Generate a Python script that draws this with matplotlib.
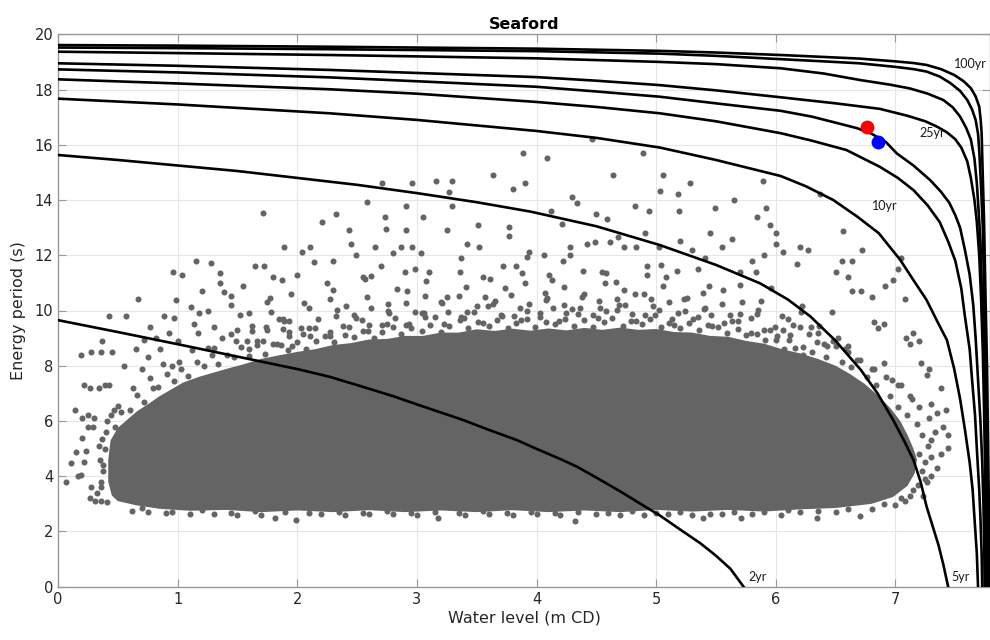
import matplotlib
matplotlib.use("Agg")
import matplotlib.pyplot as plt

# return period curves (water level m CD, energy period s)
x2yr = [0, 0.5, 1, 1.5, 2, 2.27, 2.5, 2.8, 3, 3.39, 3.6, 3.835, 4, 4.2, 4.34, 4.5, 4.7, 4.85,
        5.03, 5.2, 5.37, 5.5, 5.62, 5.73]
y2yr = [9.65, 9.22, 8.78, 8.33, 7.88, 7.6, 7.3, 6.9, 6.6, 6.03, 5.68, 5.31, 4.99, 4.62, 4.34, 3.95,
        3.45, 3.05, 2.58, 2.07, 1.57, 1.12, 0.65, 0]
x5yr = [0, 0.5, 1, 1.5, 2, 2.5, 3, 3.5, 3.95, 4.5, 5.03, 5.5, 5.87, 6.1, 6.29, 6.5, 6.71, 6.85,
        6.98, 7.07, 7.15, 7.21, 7.26, 7.31, 7.36, 7.4, 7.44]
y5yr = [15.63, 15.45, 15.25, 15.05, 14.8, 14.55, 14.25, 13.92, 13.58, 13.05, 12.37, 11.65, 10.98,
        10.4, 9.78, 8.9, 7.85, 7.0, 6.04, 5.3, 4.59, 3.8, 2.9, 2.2, 1.5, 0.8, 0]
x10yr = [0, 1, 2.27, 3, 4, 4.5, 5.03, 5.5, 6.04, 6.25, 6.48, 6.68, 6.86, 7.04, 7.15, 7.26, 7.35,
         7.43, 7.49, 7.54, 7.58, 7.62, 7.645, 7.66, 7.68, 7.69]
y10yr = [17.67, 17.46, 17.14, 16.9, 16.5, 16.25, 15.9, 15.45, 14.87, 14.5, 14.0, 13.4, 12.8, 11.83,
         11.1, 10.38, 9.6, 8.93, 7.9, 6.8, 5.7, 4.5, 3.5, 2.5, 1.2, 0]
xD = [0, 1, 2.27, 3, 4, 4.5, 5.03, 5.5, 6.04, 6.3, 6.59, 6.87, 7.02, 7.15, 7.27, 7.37, 7.44, 7.5,
      7.55, 7.58, 7.62, 7.64, 7.665, 7.68, 7.7, 7.71, 7.72, 7.725]
yD = [18.37, 18.22, 18.01, 17.85, 17.55, 17.37, 17.14, 16.85, 16.42, 16.15, 15.81, 15.2, 14.8, 14.36,
      13.8, 13.2, 12.5, 11.8, 10.8, 9.8, 8.6, 7.5, 6.2, 5.0, 3.5, 2.5, 1.2, 0]
xE = [0, 1, 2.27, 3, 4, 4.5, 5.03, 5.5, 6.04, 6.3, 6.5, 6.68, 6.8, 6.92, 7.01, 7.15, 7.29, 7.38,
      7.45, 7.5, 7.54, 7.58, 7.62, 7.65, 7.67, 7.69, 7.71, 7.725, 7.735, 7.742, 7.745]
yE = [18.73, 18.62, 18.44, 18.3, 18.1, 17.93, 17.74, 17.5, 17.23, 17.02, 16.8, 16.6, 16.4, 16.1,
      15.69, 15.25, 14.72, 14.3, 13.9, 13.45, 13.0, 12.2, 11.3, 10.2, 9.0, 7.5, 6.0, 4.5, 3.0, 1.5, 0]
x25yr = [0, 1, 2.27, 3, 4, 4.5, 5.03, 5.5, 6.04, 6.5, 6.87, 7.1, 7.25, 7.35, 7.43, 7.5, 7.55, 7.6,
         7.63, 7.66, 7.68, 7.7, 7.715, 7.73, 7.74, 7.748, 7.752, 7.755]
y25yr = [18.95, 18.86, 18.71, 18.6, 18.45, 18.32, 18.16, 17.97, 17.72, 17.5, 17.3, 17.05, 16.85,
         16.65, 16.45, 16.2, 15.9, 15.4, 14.8, 14.0, 13.2, 12.0, 10.5, 8.5, 6.5, 4.5, 2.5, 0]
xG = [0, 1, 2.27, 3, 4, 5.03, 5.5, 6.04, 6.4, 6.71, 6.95, 7.12, 7.27, 7.4, 7.48, 7.54, 7.59, 7.63,
      7.66, 7.68, 7.695, 7.71, 7.72, 7.735, 7.745, 7.75, 7.756, 7.76, 7.763, 7.765]
yG = [19.37, 19.32, 19.25, 19.2, 19.13, 19.0, 18.92, 18.77, 18.58, 18.34, 18.18, 18.04, 17.85, 17.62,
      17.35, 17.02, 16.62, 16.19, 15.5, 14.6, 13.6, 12.5, 11.0, 9.5, 7.5, 6.0, 4.5, 3.0, 1.5, 0]
xH = [0, 1, 2.27, 3, 4, 5.03, 5.5, 6.04, 6.4, 6.7, 7.0, 7.15, 7.26, 7.37, 7.46, 7.54, 7.6, 7.64,
      7.67, 7.69, 7.7, 7.715, 7.73, 7.742, 7.755, 7.763, 7.77, 7.773, 7.775]
yH = [19.52, 19.5, 19.46, 19.43, 19.39, 19.3, 19.22, 19.10, 19.02, 18.95, 18.82, 18.74, 18.65, 18.47,
      18.23, 17.95, 17.62, 17.28, 16.9, 16.4, 15.8, 14.5, 13.0, 10.5, 8.0, 5.5, 3.0, 1.5, 0]
x100yr = [0, 1, 2.27, 3, 4, 5.03, 5.5, 6.04, 6.4, 6.7, 7.0, 7.15, 7.26, 7.38, 7.49, 7.57, 7.63,
          7.67, 7.7, 7.712, 7.72, 7.73, 7.74, 7.752, 7.765, 7.773, 7.78, 7.783, 7.785]
y100yr = [19.61, 19.59, 19.55, 19.52, 19.48, 19.4, 19.34, 19.25, 19.18, 19.12, 19.02, 18.96, 18.89,
          18.74, 18.53, 18.3, 18.05, 17.75, 17.38, 16.9, 16.42, 14.8, 13.28, 10.6, 8.0, 5.5, 3.0,
          1.5, 0]

# dense part of the observations, drawn as one solid outline
coreX = [0.45, 0.42, 0.42, 0.44, 0.5, 0.58, 0.66, 0.75, 0.85, 0.95, 1.05, 1.18, 1.3, 1.42, 1.55,
         1.7, 1.85, 2.0, 2.15, 2.3, 2.45, 2.6, 2.75, 2.9, 3.05, 3.2, 3.35, 3.5, 3.65, 3.8, 3.95, 4.1,
         4.25, 4.4, 4.55, 4.7, 4.85, 5.0, 5.15, 5.3, 5.45, 5.6, 5.75, 5.9, 6.05, 6.2, 6.35, 6.5, 6.62,
         6.74, 6.86, 6.96, 7.04, 7.1, 7.15, 7.18, 7.16, 7.1, 6.98, 6.8, 6.5, 6.2, 5.9, 5.6, 5.3, 5.0,
         4.7, 4.4, 4.1, 3.8, 3.5, 3.2, 2.9, 2.6, 2.3, 2.0, 1.7, 1.4, 1.1, 0.85, 0.65, 0.5]
coreY = [3.3, 3.8, 4.6, 5.3, 5.75, 6.05, 6.35, 6.6, 6.9, 7.15, 7.4, 7.6, 7.75, 7.9, 8.05, 8.25,
         8.38, 8.5, 8.6, 8.75, 8.82, 8.95, 8.97, 9.08, 9.08, 9.2, 9.2, 9.32, 9.26, 9.34, 9.27, 9.35,
         9.28, 9.37, 9.3, 9.38, 9.3, 9.33, 9.22, 9.2, 9.08, 9.05, 8.9, 8.8, 8.6, 8.45, 8.25, 8.0, 7.7,
         7.35, 6.9, 6.45, 6.0, 5.5, 5.0, 4.6, 4.1, 3.65, 3.25, 3.0, 2.85, 2.8, 2.72, 2.78, 2.72, 2.78,
         2.7, 2.76, 2.7, 2.77, 2.7, 2.76, 2.7, 2.77, 2.7, 2.76, 2.7, 2.78, 2.75, 2.82, 2.95, 3.1]

# speckled band just above the dense part, row by row
band1X = [1.92, 2.0, 2.07, 2.16, 2.23, 2.31, 2.4, 2.47, 2.55, 2.64, 2.71, 2.8, 2.87, 2.95, 3.04,
          3.11, 3.2, 3.27, 3.36, 3.43, 3.51, 3.6, 3.67, 3.76, 3.83, 3.92, 3.99, 4.08, 4.15, 4.24,
          4.31, 4.4, 4.47, 4.56, 4.63, 4.72, 4.79, 4.88, 4.95, 5.04, 5.11, 5.2, 5.27, 5.36, 5.43,
          5.52, 5.59, 5.68, 5.75, 5.84, 5.91, 6.0, 6.07, 6.16, 6.23]
band1Y = [8.57, 8.85, 8.61, 8.88, 9.08, 8.85, 9.12, 9.03, 9.27, 9.01, 9.23, 9.42, 9.15, 9.38, 9.27,
          9.49, 9.23, 9.45, 9.64, 9.37, 9.6, 9.45, 9.65, 9.35, 9.55, 9.7, 9.4, 9.6, 9.5, 9.7, 9.45,
          9.65, 9.4, 9.6, 9.72, 9.45, 9.62, 9.5, 9.68, 9.4, 9.56, 9.37, 9.54, 9.3, 9.47, 9.39, 9.19,
          9.33, 9.1, 9.14, 8.92, 8.95, 8.6, 8.63, 8.4]
band1bX = [1.96, 2.11, 2.27, 2.43, 2.59, 2.75, 2.91, 3.07, 3.23, 3.39, 3.55, 3.71, 3.87, 4.03, 4.19,
           4.35, 4.51, 4.67, 4.83, 4.99, 5.15, 5.31, 5.47, 5.63, 5.79, 5.95, 6.11]
band1bY = [8.72, 9.08, 9.07, 9.41, 9.24, 9.52, 9.48, 9.75, 9.5, 9.73, 9.55, 9.8, 9.65, 9.91, 9.61,
           9.88, 9.72, 10.01, 9.61, 9.83, 9.47, 9.69, 9.43, 9.62, 9.17, 9.28, 8.94]
band2X = [1.6, 1.71, 1.83, 1.93, 2.05, 2.15, 2.27, 2.38, 2.49, 2.6, 2.71, 2.82, 2.93, 3.04, 3.15,
          3.26, 3.37, 3.48, 3.59, 3.7, 3.81, 3.92, 4.03, 4.14, 4.25, 4.36, 4.47, 4.58, 4.69, 4.8,
          4.91, 5.02, 5.13, 5.24, 5.35, 5.46, 5.57, 5.68, 5.79, 5.9, 6.01, 6.12, 6.23, 6.34]
band2Y = [8.6, 8.9, 8.78, 9.23, 9.15, 9.38, 9.22, 9.45, 9.74, 9.49, 9.48, 9.73, 9.52, 9.92, 9.76,
          9.95, 9.75, 9.94, 10.15, 9.85, 9.8, 10.0, 9.75, 10.1, 9.9, 10.1, 9.85, 10.0, 10.2, 9.88,
          9.83, 10.02, 9.7, 10.0, 9.76, 9.85, 9.55, 9.63, 9.73, 9.3, 9.08, 9.1, 8.67, 8.85]
band2bX = [1.66, 1.88, 2.1, 2.32, 2.54, 2.76, 2.98, 3.2, 3.42, 3.64, 3.86, 4.08, 4.3, 4.52, 4.74,
           4.96, 5.18, 5.4, 5.62, 5.84, 6.06, 6.28]
band2bY = [8.9, 9.33, 9.37, 9.8, 9.65, 9.97, 9.93, 10.3, 9.95, 10.22, 10.1, 10.39, 10.05, 10.33,
           10.21, 10.42, 9.91, 10.07, 9.83, 9.88, 9.3, 9.15]
band3X = [1.3, 1.45, 1.58, 1.74, 1.88, 2.03, 2.17, 2.33, 2.47, 2.62, 2.77, 2.91, 3.06, 3.21, 3.35,
          3.5, 3.65, 3.79, 3.94, 4.09, 4.23, 4.38, 4.53, 4.67, 4.82, 4.97, 5.11, 5.26, 5.41, 5.55,
          5.7, 5.85, 5.99, 6.14, 6.29, 6.43, 6.58]
band3Y = [8.65, 9.15, 8.9, 9.4, 9.68, 9.38, 9.7, 10.02, 9.83, 10.1, 9.9, 10.26, 9.92, 10.28, 10.54,
          10.15, 10.35, 10.55, 10.25, 10.45, 10.2, 10.5, 10.1, 10.4, 10.6, 10.15, 10.3, 10.44, 10.08,
          10.22, 9.87, 10.03, 9.4, 9.46, 9.42, 8.7, 8.6]
band4X = [1.62, 1.78, 1.93, 2.1, 2.27, 2.41, 2.58, 2.76, 2.92, 3.07, 3.25, 3.41, 3.57, 3.74, 3.9,
          4.07, 4.23, 4.4, 4.57, 4.73, 4.9, 5.06, 5.23, 5.39, 5.56, 5.72, 5.88, 6.05, 6.21, 6.36, 6.52]
band4Y = [9.45, 9.95, 9.63, 10.1, 10.42, 10.17, 10.48, 10.25, 10.72, 10.52, 10.49, 10.86, 10.5, 10.8,
          11.0, 10.65, 10.85, 10.58, 11.0, 10.73, 10.6, 10.88, 10.4, 10.63, 10.76, 10.32, 10.35, 9.8,
          9.95, 9.45, 9.0]
band5X = [1.52, 1.77, 2.06, 2.3, 2.57, 2.83, 3.08, 3.36, 3.61, 3.88, 4.13, 4.39, 4.66, 4.92, 5.17,
          5.44, 5.7, 5.96, 6.22, 6.47]
band5Y = [9.85, 10.44, 10.26, 10.74, 11.13, 10.79, 11.08, 11.39, 11.15, 11.35, 11.1, 11.43, 11.04,
          11.3, 11.43, 10.87, 10.92, 10.8, 10.15, 9.95]
band6X = [1.45, 1.87, 2.14, 2.62, 2.98, 3.37, 3.83, 4.22, 4.58, 5.04, 5.41, 5.83, 6.18, 6.6]
band6Y = [10.2, 11.1, 11.75, 11.25, 11.5, 11.9, 11.6, 11.8, 11.35, 11.65, 11.9, 11.4, 11.7, 11.2]
leftX = [0.48, 0.53, 0.6, 0.66, 0.72, 0.79, 0.84, 0.91, 0.97, 1.03, 1.09, 1.16, 1.22, 1.29, 1.34,
         1.41, 1.47, 1.53, 1.6, 1.66, 1.73, 1.8, 1.86, 1.93, 0.5, 0.63, 0.77, 0.88, 1.01, 1.12, 1.25,
         1.37, 1.49, 1.62, 1.75, 1.89, 0.33, 0.36, 0.38, 0.35, 0.39, 0.37, 0.34, 0.4, 0.38, 0.36,
         0.41, 0.44, 0.47]
leftY = [5.8, 6.32, 6.4, 6.95, 6.7, 7.2, 7.22, 7.7, 7.45, 7.9, 7.62, 8.12, 8.0, 8.39, 8.05, 8.39,
         8.31, 8.68, 8.36, 8.75, 8.43, 8.79, 8.74, 9.09, 6.55, 7.2, 7.55, 8.07, 8.15, 8.57, 8.63, 9.0,
         8.89, 9.24, 9.3, 9.61, 3.4, 3.8, 4.2, 4.6, 5.0, 5.35, 5.1, 5.6, 4.4, 3.6, 6.0, 6.2, 6.4]
rightX = [6.3, 6.42, 6.55, 6.63, 6.76, 6.84, 6.95, 7.02, 7.1, 7.18, 7.22, 7.27, 7.2, 7.12, 7.25,
          7.3, 7.19, 7.23, 6.5, 6.68, 6.82, 6.97, 7.05, 7.14, 6.4, 6.6, 6.9, 7.22, 7.25, 7.15, 7.05,
          6.9, 7.3, 7.33, 7.28, 7.2, 7.12, 7.02, 6.92, 6.8, 6.7, 6.6, 6.48, 6.35, 6.2, 6.1]
rightY = [8.5, 8.3, 8.15, 7.95, 7.6, 7.3, 6.9, 6.5, 6.2, 5.9, 5.5, 5.1, 4.8, 4.4, 4.5, 4.0, 3.7,
          3.3, 8.7, 8.2, 7.9, 7.5, 7.3, 6.8, 8.8, 8.7, 8.1, 4.2, 3.9, 3.5, 3.2, 3.0, 4.7, 5.6, 6.1,
          6.5, 6.9, 7.3, 7.6, 7.9, 8.2, 8.5, 8.9, 9.2, 9.4, 9.7]
bottomX = [0.7, 0.95, 1.2, 1.45, 1.65, 1.9, 2.1, 2.35, 2.55, 2.75, 2.95, 3.15, 3.35, 3.55, 3.75,
           3.95, 4.15, 4.35, 4.6, 4.8, 5.0, 5.2, 5.45, 5.65, 5.9, 6.1, 6.35, 6.6]
bottomY = [2.85, 2.72, 2.76, 2.68, 2.74, 2.7, 2.66, 2.72, 2.68, 2.74, 2.66, 2.72, 2.67, 2.73, 2.68,
           2.72, 2.66, 2.71, 2.67, 2.73, 2.68, 2.7, 2.65, 2.72, 2.7, 2.76, 2.74, 2.8]

# isolated observations
outlierX = [0.07, 0.11, 0.15, 0.17, 0.19, 0.27, 0.28, 0.31, 0.36, 0.41, 0.22, 0.23, 0.2, 0.25, 0.29,
            0.14, 0.2, 0.25, 0.3, 0.22, 0.27, 0.34, 0.39, 0.43, 0.19, 0.28, 0.37, 0.36, 0.45, 0.43,
            0.57, 0.67, 0.96, 1.04, 1.15, 1.28, 1.2, 0.99, 1.11, 1.18, 1.25, 1.14, 0.93, 1.17, 1.35,
            1.35, 1.39, 1.45, 0.89, 0.97, 0.77, 1.71, 2.21, 1.89, 2.11, 2.04, 0.55, 0.7, 0.75, 0.85,
            0.95, 1.0, 0.65, 0.72, 0.82, 1.3, 1.5, 1.6, 1.55, 1.65, 1.72, 1.75, 1.8, 1.85, 1.95, 2.0,
            2.25, 2.3, 2.45, 2.55, 2.65, 2.7, 2.8, 2.87, 2.96, 2.9, 3.03, 3.1, 3.25, 3.42, 3.52,
            3.55, 3.72, 3.77, 3.77, 3.92, 3.94, 4.06, 4.1, 4.28, 4.28, 4.42, 4.49, 4.55, 4.61, 4.68,
            4.73, 4.83, 4.92, 5.02, 5.08, 5.2, 5.3, 5.35, 5.45, 5.55, 5.63, 5.7, 5.8, 5.9, 6.0, 6.0,
            6.06, 6.2, 6.27, 6.5, 6.55, 6.64, 6.64, 6.71, 6.72, 6.8, 6.82, 6.85, 6.9, 6.91, 6.98, 7.02,
            7.05, 7.08, 7.09, 7.12, 7.15, 7.2, 7.21, 7.26, 7.28, 7.3, 7.35, 7.38, 7.42, 7.4, 7.44,
            7.35, 7.3, 7.38, 7.26, 7.44, 7.08, 7.12, 7.0,
            2.32, 2.43, 2.49, 2.58, 2.73, 2.74, 2.71, 2.91, 2.91, 2.96, 3.05, 3.16, 3.27, 3.29, 3.29,
            3.51, 3.64, 3.8, 3.89, 3.9, 4.09, 4.12, 4.21, 4.3, 4.34, 4.46, 4.5, 4.59, 4.64, 4.82,
            4.89, 4.91, 4.94, 5.03, 5.06, 5.18, 5.19, 5.28, 5.49, 5.65, 5.84, 5.89, 5.92, 5.95, 6.37,
            6.56,
            1.81, 1.99, 3.18, 4.32, 5.39, 5.71, 6.04, 6.34, 6.70, 0.62, 0.75, 0.9, 1.1, 1.3, 1.5,
            1.7, 2.2, 2.4, 2.6, 2.8, 3.0, 3.4, 3.6, 3.8, 4.0, 4.2, 4.5, 4.7, 4.9, 5.1, 5.3, 5.55,
            5.8, 6.2, 6.5, 6.8]
outlierY = [3.8, 4.49, 4.89, 4.0, 4.05, 3.2, 3.6, 3.1, 3.1, 3.05, 4.5, 4.9, 5.37, 5.8, 5.8, 6.4,
            6.1, 6.2, 6.1, 7.29, 7.2, 7.2, 7.29, 7.29, 8.39, 8.51, 8.9, 8.51, 8.51, 9.8, 9.8, 10.4,
            11.4, 11.3, 11.8, 11.71, 10.72, 10.38, 10.14, 9.91, 9.99, 9.5, 9.2, 9.2, 11.0, 11.37,
            10.68, 10.52, 9.8, 9.72, 9.41, 13.52, 13.2, 12.31, 12.31, 12.1, 8.0, 7.9, 8.3, 8.6, 8.0,
            8.9, 8.6, 8.95, 9.0, 9.4, 9.3, 9.9, 10.9, 11.6, 11.6, 10.3, 11.2, 9.7, 10.6, 11.3, 11.0,
            11.8, 12.4, 11.2, 12.31, 11.6, 12.09, 12.31, 12.31, 11.4, 12.09, 11.41, 12.91, 12.41,
            12.31, 11.2, 11.6, 13.04, 12.71, 11.95, 12.13, 12.01, 11.3, 12.31, 12.0, 12.41, 12.49,
            11.4, 12.49, 12.67, 12.31, 12.29, 11.6, 12.31, 11.2, 12.5, 12.2, 11.5, 12.8, 12.3, 12.6,
            11.4, 11.8, 12.0, 12.4, 12.8, 12.1, 12.3, 12.2, 11.4, 11.79, 11.79, 10.72, 10.7, 12.19,
            10.5, 9.6, 9.36, 9.5, 10.89, 11.1, 11.49, 11.89, 10.4, 9.0, 8.8, 9.2, 8.9, 8.1, 7.66, 7.9,
            6.6, 6.3, 7.2, 6.4, 5.8, 5.01, 4.31, 5.3, 4.8, 3.8, 5.5, 3.1, 3.3, 2.95,
            13.5, 12.91, 12.01, 13.92, 13.4, 12.95, 14.6, 13.79, 12.91, 14.6, 13.4, 14.7, 14.3, 14.7,
            13.79, 13.1, 14.9, 14.4, 15.71, 14.6, 15.51, 13.61, 13.13, 14.1, 13.9, 16.2, 13.49, 13.3,
            14.9, 13.79, 15.71, 12.82, 13.61, 14.34, 14.9, 14.2, 13.61, 14.6, 13.7, 14.0, 13.4, 14.7,
            13.7, 13.1, 14.22, 12.89,
            2.48, 2.41, 2.48, 2.39, 2.48, 2.48, 2.6, 2.48, 2.56, 2.75, 2.7, 2.68, 2.65, 2.62, 2.6,
            2.6, 2.62, 2.6, 2.65, 2.62, 2.6, 2.58, 2.62, 2.6, 2.63, 2.6, 2.62, 2.58, 2.6, 2.62, 2.6,
            2.62, 2.65, 2.7, 2.7, 2.8]

# the two highlighted events
redPoint = (6.76, 16.63)
bluePoint = (6.85, 16.11)

grey = "#646464"

fig = plt.figure(figsize=(9.9, 6.4), dpi=100)
ax = fig.add_axes([58 / 990, 1 - 586.7 / 640, 1 - 58 / 990, (586.7 - 34.3) / 640])
plt.rcParams["font.family"] = ["Liberation Sans", "DejaVu Sans"]

ax.fill(coreX, coreY, color=grey, lw=0, zorder=2)
for sx, sy in [(band1X, band1Y), (band1bX, band1bY), (band2X, band2Y), (band2bX, band2bY),
               (band3X, band3Y), (band4X, band4Y), (band5X, band5Y), (band6X, band6Y),
               (leftX, leftY), (rightX, rightY), (bottomX, bottomY), (outlierX, outlierY)]:
    ax.scatter(sx, sy, s=19, color=grey, linewidths=0, zorder=2)

for cx, cy in [(x2yr, y2yr), (x5yr, y5yr), (x10yr, y10yr), (xD, yD), (xE, yE),
               (x25yr, y25yr), (xG, yG), (xH, yH), (x100yr, y100yr)]:
    ax.plot(cx, cy, color="black", lw=1.9, zorder=3, solid_joinstyle="round")

ax.plot(*redPoint, "o", color="red", ms=10, mec="none", zorder=4)
ax.plot(*bluePoint, "o", color="blue", ms=10, mec="none", zorder=4)

labelFont = dict(fontsize=9, family=["Lato", "DejaVu Sans"], color="#1a1a1a", zorder=5)
ax.text(5.77, 0.12, "2yr", va="bottom", **labelFont)
ax.text(7.47, 0.12, "5yr", va="bottom", **labelFont)
ax.text(6.80, 13.55, "10yr", va="bottom", **labelFont)
ax.text(7.2, 16.2, "25yr", va="bottom", **labelFont)
ax.text(7.49, 18.72, "100yr", va="bottom", **labelFont)

ax.set_xlim(0, 7.79)
ax.set_ylim(0, 20)
ax.set_xticks(range(0, 8))
ax.set_yticks(range(0, 21, 2))
ax.grid(True, color="#e6e6e6", lw=0.8, zorder=0)
ax.set_axisbelow(True)
ax.tick_params(direction="in", length=6, width=0.8, colors="#999999", labelcolor="#262626",
               labelsize=10.5, top=True, right=True)
for sp in ax.spines.values():
    sp.set_color("#999999")
    sp.set_linewidth(1.0)

ax.set_xlabel("Water level (m CD)", fontsize=11.5, color="#262626", labelpad=3)
ax.set_ylabel("Energy period (s)", fontsize=11.5, color="#262626", labelpad=6)
ax.set_title("Seaford", fontsize=11.5, fontweight="bold", color="black", pad=4)

fig.savefig("out.png", dpi=100)
